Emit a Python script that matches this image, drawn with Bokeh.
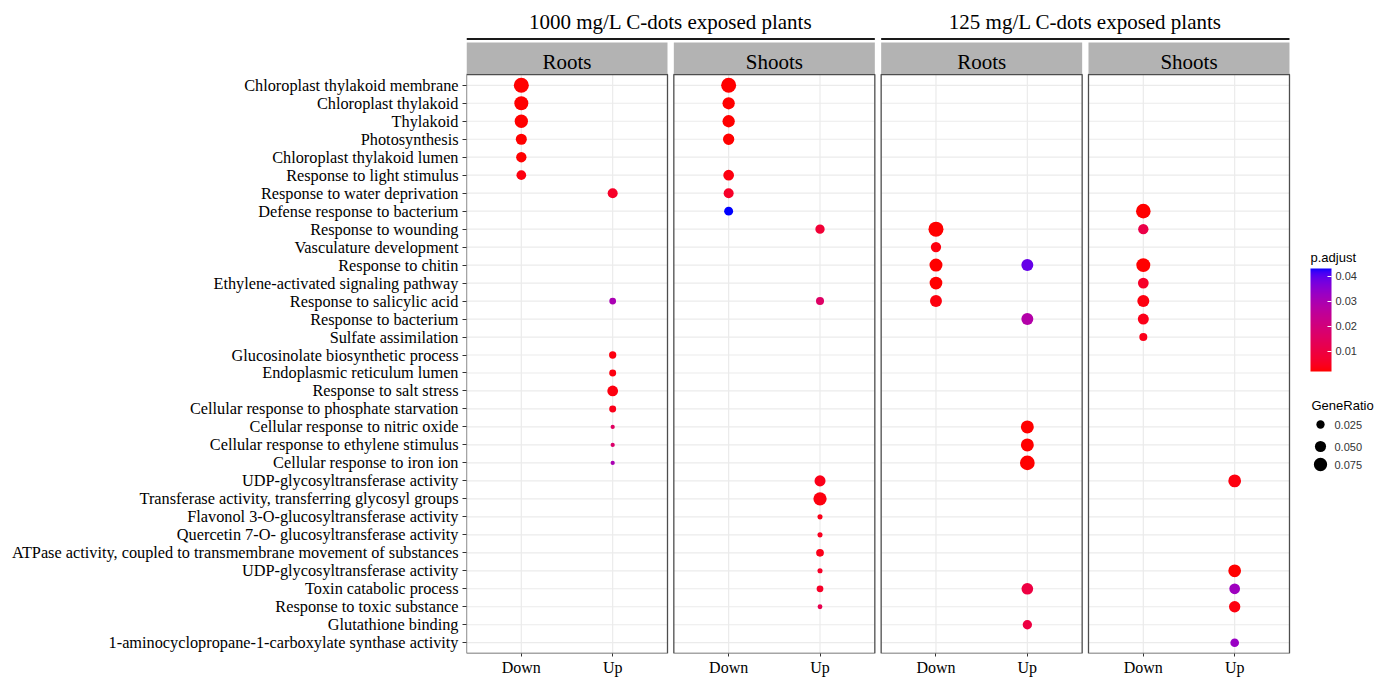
import numpy as np
import pandas as pd
from bokeh.plotting import figure
from bokeh.models import (Range1d, FixedTicker, ColumnDataSource, LinearColorMapper,
                          ColorBar, PrintfTickFormatter)
from bokeh.core.properties import value
from bokeh.embed import file_html
from bokeh.resources import INLINE

# ---------------- data ----------------
terms = [
    "Chloroplast thylakoid membrane",
    "Chloroplast thylakoid",
    "Thylakoid",
    "Photosynthesis",
    "Chloroplast thylakoid lumen",
    "Response to light stimulus",
    "Response to water deprivation",
    "Defense response to bacterium",
    "Response to wounding",
    "Vasculature development",
    "Response to chitin",
    "Ethylene-activated signaling pathway",
    "Response to salicylic acid",
    "Response to bacterium",
    "Sulfate assimilation",
    "Glucosinolate biosynthetic process",
    "Endoplasmic reticulum lumen",
    "Response to salt stress",
    "Cellular response to phosphate starvation",
    "Cellular response to nitric oxide",
    "Cellular response to ethylene stimulus",
    "Cellular response to iron ion",
    "UDP-glycosyltransferase activity",
    "Transferase activity, transferring glycosyl groups",
    "Flavonol 3-O-glucosyltransferase activity",
    "Quercetin 7-O- glucosyltransferase activity",
    "ATPase activity, coupled to transmembrane movement of substances",
    "UDP-glycosyltransferase activity",
    "Toxin catabolic process",
    "Response to toxic substance",
    "Glutathione binding",
    "1-aminocyclopropane-1-carboxylate synthase activity",
]
directions = ["Down", "Up"]
groups = ["1000 mg/L C-dots exposed plants", "125 mg/L C-dots exposed plants"]
tissues = ["Roots", "Shoots", "Roots", "Shoots"]

# 1000 mg/L - Roots   (row = term position, 1 = top)
r1000_row   = [1, 2, 3, 4, 5, 6, 7, 13, 16, 17, 18, 19, 20, 21, 22]
r1000_dir   = ["Down", "Down", "Down", "Down", "Down", "Down",
               "Up", "Up", "Up", "Up", "Up", "Up", "Up", "Up", "Up"]
r1000_ratio = [0.098, 0.084, 0.075, 0.049, 0.042, 0.036,
               0.039, 0.015, 0.018, 0.016, 0.046, 0.016, 0.004, 0.004, 0.004]
r1000_padj  = [0.002, 0.002, 0.002, 0.002, 0.002, 0.003,
               0.006, 0.030, 0.003, 0.003, 0.003, 0.004, 0.015, 0.017, 0.030]

# 1000 mg/L - Shoots
s1000_row   = [1, 2, 3, 4, 6, 7, 8, 9, 13, 23, 24, 25, 26, 27, 28, 29, 30]
s1000_dir   = ["Down", "Down", "Down", "Down", "Down", "Down", "Down",
               "Up", "Up", "Up", "Up", "Up", "Up", "Up", "Up", "Up", "Up"]
s1000_ratio = [0.098, 0.063, 0.063, 0.052, 0.046, 0.039, 0.030,
               0.033, 0.023, 0.049, 0.075, 0.007, 0.007, 0.021, 0.007, 0.015, 0.006]
s1000_padj  = [0.002, 0.002, 0.002, 0.002, 0.003, 0.006, 0.043,
               0.008, 0.016, 0.004, 0.003, 0.004, 0.005, 0.004, 0.006, 0.006, 0.012]

# 125 mg/L - Roots
r125_row   = [9, 10, 11, 12, 13, 11, 14, 20, 21, 22, 29, 31]
r125_dir   = ["Down", "Down", "Down", "Down", "Down",
              "Up", "Up", "Up", "Up", "Up", "Up", "Up"]
r125_ratio = [0.098, 0.042, 0.071, 0.068, 0.059,
              0.059, 0.059, 0.071, 0.071, 0.094, 0.056, 0.033]
r125_padj  = [0.002, 0.003, 0.002, 0.002, 0.003,
              0.039, 0.028, 0.002, 0.002, 0.002, 0.010, 0.010]

# 125 mg/L - Shoots
s125_row   = [8, 9, 11, 12, 13, 14, 15, 23, 28, 29, 30, 32]
s125_dir   = ["Down", "Down", "Down", "Down", "Down", "Down", "Down",
              "Up", "Up", "Up", "Up", "Up"]
s125_ratio = [0.092, 0.042, 0.084, 0.046, 0.059, 0.049, 0.023,
              0.068, 0.068, 0.046, 0.052, 0.028]
s125_padj  = [0.002, 0.011, 0.002, 0.006, 0.003, 0.004, 0.004,
              0.003, 0.002, 0.032, 0.003, 0.033]

size_breaks = [0.025, 0.050, 0.075]
size_labels = ["0.025", "0.050", "0.075"]
color_ticks = [0.01, 0.02, 0.03, 0.04]

panels = [
    (r1000_row, r1000_dir, r1000_ratio, r1000_padj),
    (s1000_row, s1000_dir, s1000_ratio, s1000_padj),
    (r125_row, r125_dir, r125_ratio, r125_padj),
    (s125_row, s125_dir, s125_ratio, s125_padj),
]

# ---------------- layout constants (canvas pixels) ----------------
SERIF = "Liberation Serif"
SANS = "Liberation Sans"
LEFT = 466           # canvas x of frame left
FRAME_W = 914
FRAME_H = 653        # frame bottom = panel bottom
TOP_PX = 74          # canvas y of panel top (inside frame)
TXT_FIX = 7          # baseline compensation for svg text
PX = 201 / 2.2       # pixels per x unit
PITCH = 207.33 / PX  # panel pitch in x units
N = len(terms)
PY = (FRAME_H - TOP_PX) / (N - 1 + 1.2)
Y_LO, Y_HI = 0.4, N + 0.6
Y_END = Y_HI + TOP_PX / PY
X_END = 0.4 + FRAME_W / PX


def cx(px):
    return 0.4 + (px - LEFT) / PX


def cy(py):
    return Y_HI - (py - TOP_PX) / PY


def ratio_to_size(r):
    return 1.5 + 43.1 * np.sqrt(np.asarray(r, dtype=float))


# ---------------- red -> blue palette interpolated in CIELAB ----------------
def _lin(c):
    c = c / 255.0
    return c / 12.92 if c <= 0.04045 else ((c + 0.055) / 1.055) ** 2.4


def _f(t):
    d = 6 / 29
    return t ** (1 / 3) if t > d ** 3 else t / (3 * d * d) + 4 / 29


def _finv(t):
    d = 6 / 29
    return t ** 3 if t > d else 3 * d * d * (t - 4 / 29)


def rgb2lab(rgb):
    r, g, b = [_lin(c) for c in rgb]
    X = (0.4124 * r + 0.3576 * g + 0.1805 * b) / 0.95047
    Y = (0.2126 * r + 0.7152 * g + 0.0722 * b)
    Z = (0.0193 * r + 0.1192 * g + 0.9505 * b) / 1.08883
    return (116 * _f(Y) - 16, 500 * (_f(X) - _f(Y)), 200 * (_f(Y) - _f(Z)))


def lab2hex(L, a, b):
    fy = (L + 16) / 116
    X = 0.95047 * _finv(fy + a / 500)
    Y = _finv(fy)
    Z = 1.08883 * _finv(fy - b / 200)
    r = 3.2406 * X - 1.5372 * Y - 0.4986 * Z
    g = -0.9689 * X + 1.8758 * Y + 0.0415 * Z
    bb = 0.0557 * X - 0.2040 * Y + 1.0570 * Z
    out = []
    for c in (r, g, bb):
        c = min(max(c, 0.0), 1.0)
        c = 12.92 * c if c <= 0.0031308 else 1.055 * c ** (1 / 2.4) - 0.055
        out.append(int(round(c * 255)))
    return "#%02x%02x%02x" % tuple(out)


lo_lab = rgb2lab((255, 0, 0))
hi_lab = rgb2lab((0, 0, 255))
palette = [lab2hex(*[lo_lab[k] + (hi_lab[k] - lo_lab[k]) * t for k in range(3)])
           for t in np.linspace(0, 1, 256)]

all_padj = r1000_padj + s1000_padj + r125_padj + s125_padj
mapper = LinearColorMapper(palette=palette, low=min(all_padj), high=max(all_padj))

# ---------------- data frame ----------------
recs = []
for k, (rows, dirs, ratios, padjs) in enumerate(panels):
    for r, d, g, pa in zip(rows, dirs, ratios, padjs):
        recs.append(dict(x=1 + k * PITCH + directions.index(d),
                         y=N + 1 - r, ratio=g, padj=pa))
df = pd.DataFrame(recs)
df["size"] = ratio_to_size(df["ratio"])
src = ColumnDataSource(df)

# ---------------- figure ----------------
p = figure(frame_width=FRAME_W, frame_height=FRAME_H,
           x_range=Range1d(0.4, X_END), y_range=Range1d(Y_LO, Y_END),
           output_backend="svg", toolbar_location=None, tools="",
           min_border_left=LEFT, min_border_right=5, min_border_top=0,
           min_border_bottom=0, background_fill_color="white",
           border_fill_color="white")
p.outline_line_color = None
p.xgrid.visible = False
p.ygrid.visible = False

panel_x0 = [0.4 + k * PITCH for k in range(len(tissues))]
panel_x1 = [x0 + 2.2 for x0 in panel_x0]
row_y = [N + 1 - (i + 1) for i in range(N)]

# grid lines
hx0, hx1, hy = [], [], []
vx, vy0, vy1 = [], [], []
for x0, x1 in zip(panel_x0, panel_x1):
    for yv in row_y:
        hx0.append(x0); hx1.append(x1); hy.append(yv)
    for d in range(len(directions)):
        vx.append(x0 + 0.6 + d); vy0.append(Y_LO); vy1.append(Y_HI)
p.segment(x0=hx0, x1=hx1, y0=hy, y1=hy, line_color="#EBEBEB", line_width=1.2)
p.segment(x0=vx, x1=vx, y0=vy0, y1=vy1, line_color="#EBEBEB", line_width=1.2)

# points
p.scatter(x="x", y="y", size="size", source=src,
          fill_color={"field": "padj", "transform": mapper}, line_color=None)

# panel borders
p.quad(left=panel_x0, right=panel_x1, bottom=[Y_LO] * 4, top=[Y_HI] * 4,
       fill_color=None, line_color="#4D4D4D", line_width=1.3)

# strips
strip_top = Y_HI + 32 / PY
p.quad(left=panel_x0, right=panel_x1, bottom=[Y_HI + 0.5 / PY] * 4, top=[strip_top] * 4,
       fill_color="#B3B3B3", line_color=None)
p.text(x=[x0 + 1.1 for x0 in panel_x0], y=[Y_HI + (6 + TXT_FIX) / PY] * 4, text=tissues,
       text_font=value(SERIF), text_font_size="21px", text_color="black",
       text_align="center", text_baseline="alphabetic")

# group headers
gx0 = [panel_x0[0], panel_x0[2]]
gx1 = [panel_x1[1], panel_x1[3]]
gline = Y_HI + 35.5 / PY
p.segment(x0=gx0, x1=gx1, y0=[gline] * 2, y1=[gline] * 2, line_color="#1A1A1A", line_width=2)
p.text(x=[(a + b) / 2 for a, b in zip(gx0, gx1)], y=[Y_HI + (45.5 + TXT_FIX) / PY] * 2,
       text=groups, text_font=value(SERIF), text_font_size="21px", text_color="black",
       text_align="center", text_baseline="alphabetic")

# axes
p.yaxis.ticker = FixedTicker(ticks=row_y)
p.yaxis.major_label_overrides = {yv: t for yv, t in zip(row_y, terms)}
xt, xl = [], {}
for x0 in panel_x0:
    for d, name in enumerate(directions):
        xv = x0 + 0.6 + d
        xt.append(xv)
        xl[xv] = name
p.xaxis.ticker = FixedTicker(ticks=xt)
p.xaxis.major_label_overrides = xl
for ax in (p.xaxis[0], p.yaxis[0]):
    ax.axis_line_color = None
    ax.major_tick_line_color = "#333333"
    ax.major_tick_in = 0
    ax.minor_tick_line_color = None
    ax.major_label_text_font = SERIF
    ax.major_label_text_font_size = "16px"
    ax.major_label_text_color = "black"
p.yaxis.major_label_text_font_size = "16.3px"
p.yaxis.major_tick_out = 4
p.yaxis.major_label_standoff = 4
p.xaxis.major_tick_out = 3
p.xaxis.major_label_standoff = 2

# colour bar (p.adjust)
cb = ColorBar(color_mapper=mapper, ticker=FixedTicker(ticks=color_ticks),
              formatter=PrintfTickFormatter(format="%.2f"),
              width=21, height=103, location=(1310 - LEFT, FRAME_H - 371), padding=0,
              major_label_text_font=SANS, major_label_text_font_size="11px",
              major_label_text_color="#333333",
              major_tick_line_color="white", major_tick_in=4, major_tick_out=0,
              label_standoff=4, bar_line_color=None, border_line_color=None,
              background_fill_color=None)
p.add_layout(cb)
p.text(x=[cx(1310)], y=[cy(264 - TXT_FIX)], text=["p.adjust"], text_font=value(SANS),
       text_font_size="13px", text_color="black", text_align="left",
       text_baseline="alphabetic")

# size legend (GeneRatio)
leg_y = [cy(424), cy(446), cy(464)]
p.scatter(x=[cx(1320)] * 3, y=leg_y, size=list(ratio_to_size(size_breaks)),
          fill_color="black", line_color=None)
p.text(x=[cx(1334)] * 3, y=leg_y, text=size_labels, text_font=value(SANS),
       text_font_size="11px", text_color="#333333", text_align="left",
       text_baseline="middle")
p.text(x=[cx(1311)], y=[cy(412 - TXT_FIX)], text=["GeneRatio"], text_font=value(SANS),
       text_font_size="13px", text_color="black", text_align="left",
       text_baseline="alphabetic")

open("out.html", "w").write(file_html(p, INLINE))
